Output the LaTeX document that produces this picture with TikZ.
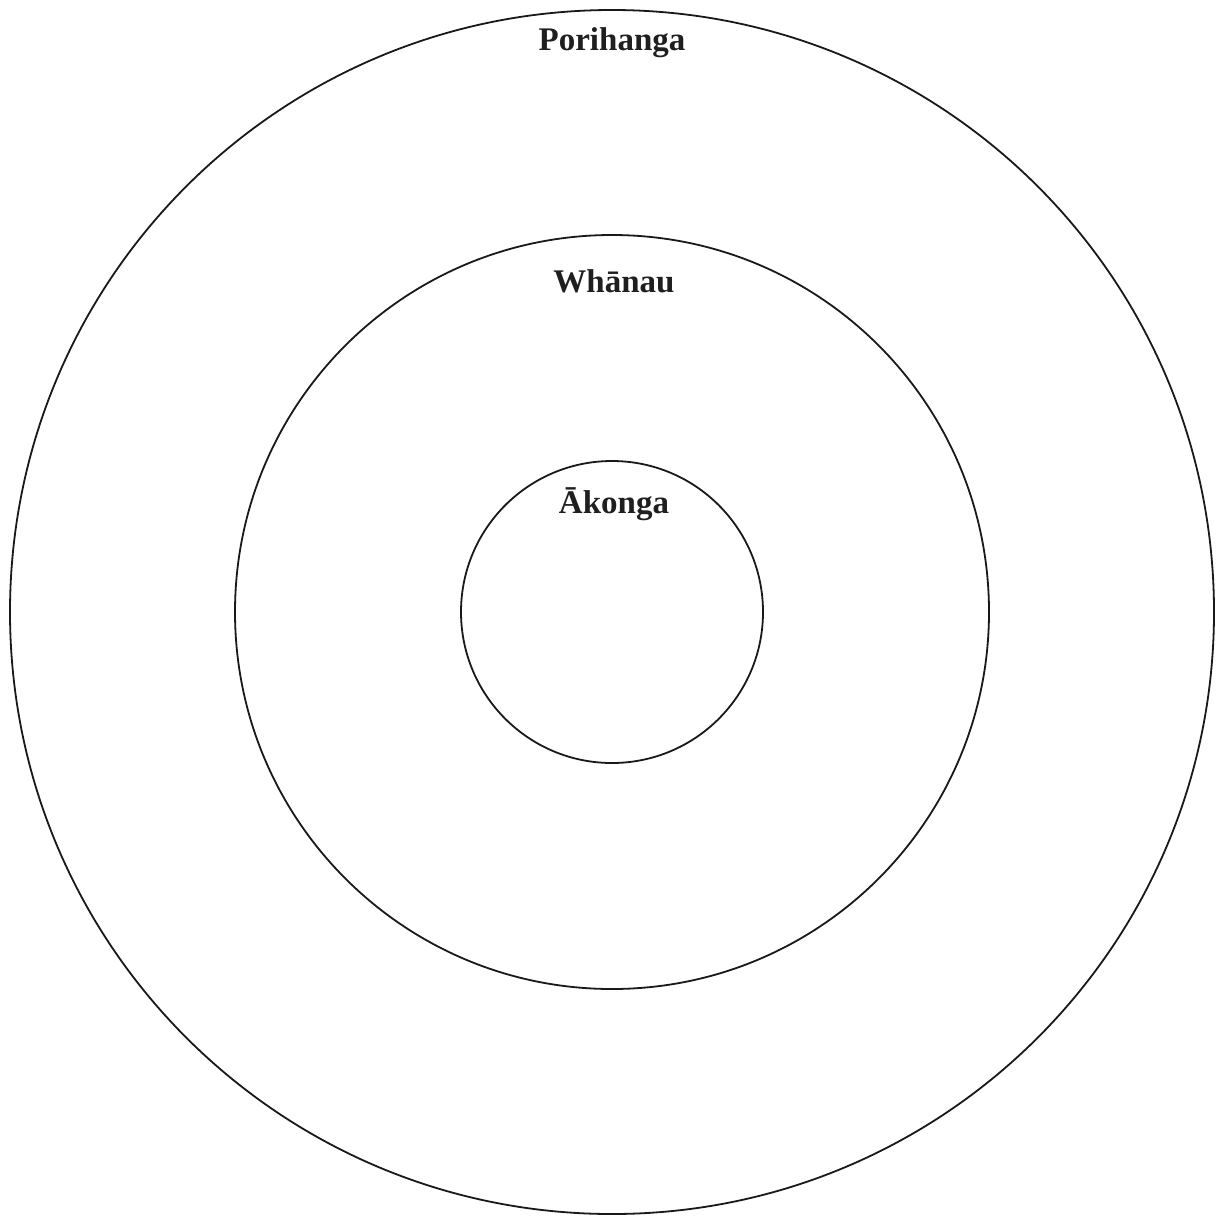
\documentclass[tikz,border=0pt]{standalone}
\usepackage{fontspec}
\setmainfont{Liberation Serif}
\begin{document}
\begin{tikzpicture}[x=1pt,y=-1pt,
  ring/.style={draw=black!90,line width=1.8pt},
  lbl/.style={anchor=base,inner sep=0pt,font=\fontsize{33}{40}\selectfont\bfseries,text=black!88}]
\useasboundingbox (0,0) rectangle (1217,1216);
\coordinate (c) at (612,612);
\draw[ring] (c) circle[radius=602];
\draw[ring] (c) circle[radius=377];
\draw[ring] (c) circle[radius=151];
\node[lbl] (p) at (612,50) {Porihanga};
\node[lbl] (w) at (614,292) {Whānau};
\node[lbl] (a) at (614,513) {Ākonga};
\end{tikzpicture}
\end{document}
